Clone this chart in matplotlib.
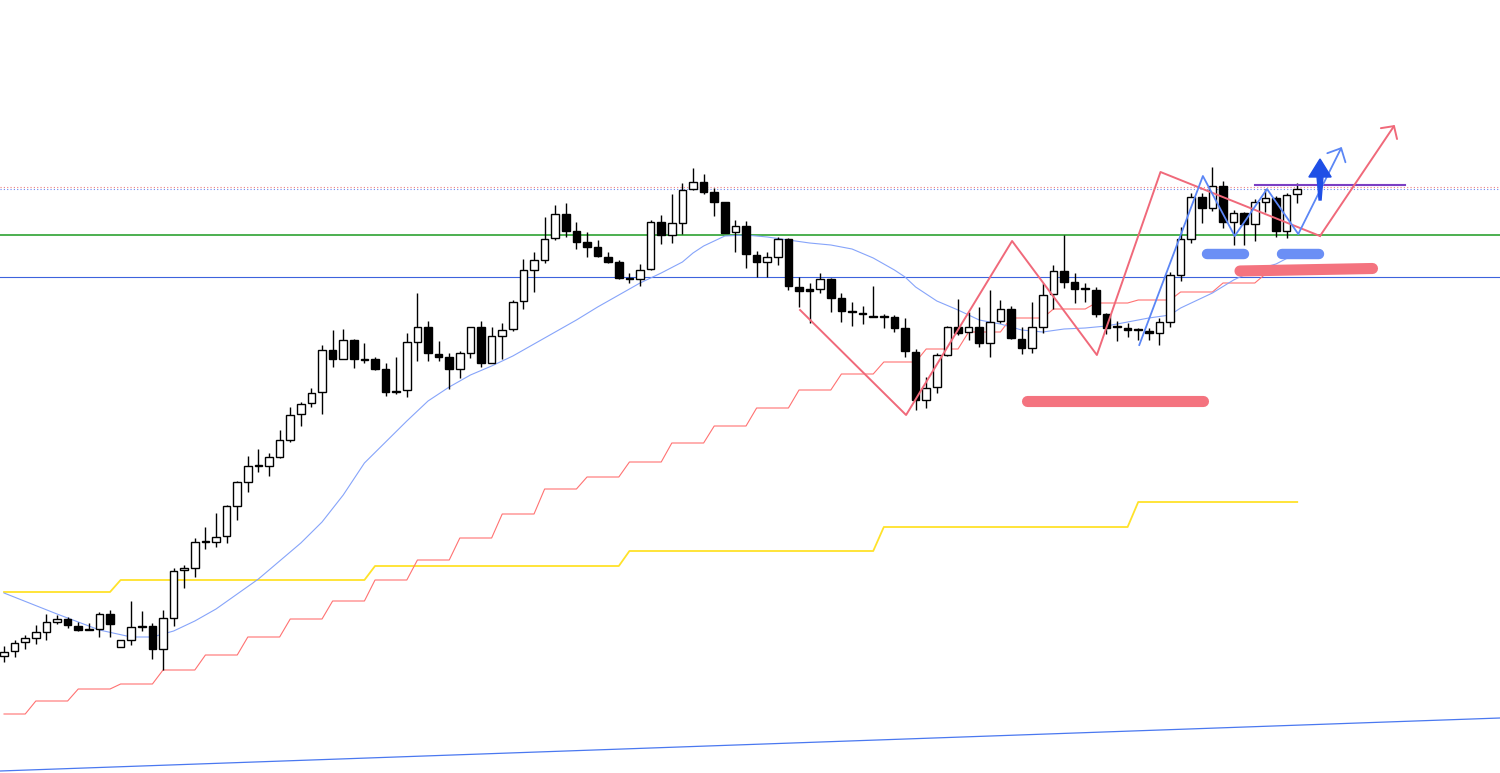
import numpy as np
import matplotlib.pyplot as plt
from matplotlib.patches import Polygon

# candles, one value per bar (price units)
opens = [117, 122, 131, 135, 141, 151, 154, 147, 144, 144, 159, 126, 133, 146, 147, 124, 155, 203, 205, 231,
         231, 237, 267, 291, 307, 307, 316, 333, 359, 370, 381, 423, 414, 433, 414, 414, 404, 381, 383, 431,
         446, 419, 416, 404, 420, 446, 410, 437, 444, 472, 503, 513, 535, 559, 542, 531, 526, 516, 511, 495,
         494, 504, 551, 538, 550, 584, 591, 581, 571, 541, 547, 518, 511, 516, 534, 486, 484, 484, 494, 475,
         462, 460, 457, 457, 456, 445, 421, 373, 386, 418, 446, 441, 446, 430, 452, 464, 434, 425, 446, 479,
         502, 491, 484, 483, 459, 446, 445, 443, 442, 440, 451, 498, 534, 576, 565, 587, 551, 560, 549, 571,
         575, 542, 579]
highs = [127, 133, 138, 148, 159, 158, 156, 151, 150, 161, 163, 133, 172, 162, 150, 163, 205, 208, 235, 246,
         260, 268, 292, 317, 324, 320, 343, 366, 371, 385, 428, 443, 444, 434, 430, 416, 410, 416, 440, 480,
         452, 432, 420, 422, 446, 452, 446, 450, 473, 514, 521, 556, 568, 570, 551, 541, 533, 521, 513, 500,
         509, 553, 558, 579, 590, 605, 599, 585, 571, 553, 552, 522, 521, 536, 535, 496, 490, 500, 495, 480,
         471, 467, 487, 459, 458, 455, 424, 396, 420, 447, 474, 461, 466, 483, 473, 467, 446, 471, 490, 508,
         538, 500, 490, 486, 460, 452, 450, 445, 445, 455, 501, 546, 580, 580, 606, 592, 563, 561, 574, 584,
         577, 580, 590]
lows = [111, 116, 124, 129, 133, 149, 145, 142, 143, 136, 136, 126, 128, 142, 114, 103, 147, 185, 196, 224,
        226, 230, 253, 281, 301, 297, 315, 331, 347, 366, 359, 406, 414, 405, 410, 403, 377, 379, 376, 412,
        412, 412, 384, 395, 415, 406, 410, 414, 442, 464, 481, 510, 533, 536, 524, 516, 516, 510, 494, 490,
        487, 503, 529, 530, 539, 583, 579, 557, 540, 521, 505, 496, 496, 508, 483, 466, 450, 480, 461, 451,
        447, 449, 456, 445, 441, 416, 363, 365, 380, 417, 438, 433, 426, 416, 450, 434, 419, 420, 440, 464,
        485, 470, 471, 456, 439, 432, 436, 433, 433, 428, 446, 492, 530, 550, 562, 545, 528, 528, 532, 561,
        536, 535, 570]
closes = [121, 130, 135, 141, 151, 154, 148, 143, 143, 159, 149, 133, 146, 147, 124, 155, 202, 205, 231, 232,
          236, 267, 291, 307, 308, 316, 333, 358, 369, 380, 423, 414, 433, 414, 413, 404, 381, 382, 431, 446,
          420, 416, 404, 420, 446, 410, 437, 443, 471, 503, 513, 534, 559, 542, 531, 526, 517, 511, 495, 494,
          503, 551, 538, 550, 583, 591, 581, 571, 540, 547, 519, 511, 516, 534, 487, 482, 482, 494, 475, 462,
          461, 459, 456, 456, 445, 422, 373, 385, 418, 446, 440, 446, 430, 451, 464, 435, 425, 446, 478, 502,
          491, 484, 485, 459, 445, 447, 443, 443, 440, 451, 498, 534, 576, 565, 587, 551, 560, 549, 571, 575,
          542, 578, 584]

# moving average (light blue), read at some bars
ma_bar = [0, 5, 9, 12, 14, 16, 18, 20, 22, 24, 26, 28, 30, 32, 34, 36, 38, 40, 42, 44, 46, 48, 50, 52, 54,
          56, 58, 60, 62, 64, 65, 66, 68, 70, 72, 74, 76, 78, 80, 82, 84, 85, 86, 88, 90, 92, 94, 96, 98, 100,
          102, 104, 106, 108, 110, 111, 112, 114, 116, 118, 120, 122]
ma_val = [180, 159, 143, 136, 136, 142, 152, 164, 179, 194, 212, 230, 251, 278, 310, 331, 352, 372, 386, 398,
          407, 417, 429, 441, 453, 466, 478, 490, 500, 511, 520, 527, 537, 538, 536, 533, 530, 528, 524, 515,
          503, 496, 486, 472, 463, 453, 449, 443, 441, 444, 445, 447, 451, 455, 458, 465, 470, 480, 493, 503,
          509, 520]

# higher timeframe step lines: level and how many bars it holds
red_levels = [59, 72, 84, 89, 103, 118, 136, 154, 172, 193, 213, 235, 259, 284, 296, 311, 330, 347, 365, 383,
              399, 411, 424, 441, 455, 464, 470, 473, 481, 490, 499]
red_counts = [3] + [4] * 30
yellow_levels = [181, 193, 207, 222, 246, 271]
yellow_counts = [11, 24, 24, 24, 24, 16]

# horizontal levels
green_level = 538
blue_level = 496
dotted_red = 585.7
dotted_blue = 583.7
purple_level = 588.5
purple_from, purple_to = 118.0, 132.2

# long trend line (two anchors)
trend_x = [-0.38, 141.13]
trend_y = [2, 55]

# drawn swings
red_zz_x = [75.1, 85.1, 95.1, 103.1, 109.1, 124.15, 131.2]
red_zz_y = [463, 358, 532, 418, 601, 537, 648]
blue_zz_x = [107.1, 113.1, 116.1, 119.15, 122.1, 126.2]
blue_zz_y = [428, 597, 537, 584, 539, 626]

# marker strokes: (x0, x1, y0, y1)
red_marks = [(96.5, 113.1, 372.5, 372.5), (116.6, 129.1, 502, 504.5)]
blue_marks = [(113.5, 117.0, 519.5, 519.5), (120.6, 124.1, 519.5, 519.5)]

# up arrow (x, y)
arrow_x = [124.15, 123.1, 123.87, 124.06, 124.25, 124.43, 125.2]
arrow_y = [614, 596, 596, 573, 573, 596, 596]


def draw_candles(ax):
    x = np.arange(len(opens))
    o = np.array(opens, dtype=float)
    c = np.array(closes, dtype=float)
    up = c > o
    bottom = np.minimum(o, c)
    height = np.maximum(np.abs(c - o), 1.0)
    ax.vlines(x, lows, highs, color='black', lw=1.0, zorder=3)
    ax.bar(x, height, bottom=bottom, width=0.72,
           color=np.where(up, 'white', 'black'), edgecolor='black', lw=1.0, zorder=4)


def main():
    fig = plt.figure(figsize=(15, 7.73), dpi=100)
    ax = fig.add_axes([0, 0, 1, 1])
    ax.set_xlim(-0.38, 141.13)
    ax.set_ylim(0, 773)
    ax.axis('off')

    n = len(opens)
    x = np.arange(n)

    # horizontal lines
    ax.axhline(green_level, color='#4caf50', lw=1.4, zorder=1)
    ax.axhline(blue_level, color='#3d63dd', lw=0.8, zorder=1)
    ax.axhline(dotted_red, color='#f08080', lw=0.8, ls=(0, (1, 2)), zorder=1)
    ax.axhline(dotted_blue, color='#6a86ee', lw=0.8, ls=(0, (1, 2)), zorder=1)
    ax.plot(trend_x, trend_y, color='#4a78f0', lw=0.9, zorder=1)

    # indicator lines
    ax.plot(x, np.repeat(yellow_levels, yellow_counts), color='#ffe22a', lw=1.3, zorder=2)
    ax.plot(x, np.repeat(red_levels, red_counts), color='#ff7272', lw=0.8, zorder=2)
    ax.plot(ma_bar, ma_val, color='#86a4fa', lw=0.8, zorder=2)

    draw_candles(ax)

    ax.plot([purple_from, purple_to], [purple_level, purple_level], color='#7b3fc4', lw=1.5, zorder=5)

    # zigzags with open arrow heads
    ax.plot(red_zz_x[:-1], red_zz_y[:-1], color='#f0697a', lw=1.4, zorder=6)
    ax.annotate('', xy=(red_zz_x[-1], red_zz_y[-1]), xytext=(red_zz_x[-2], red_zz_y[-2]),
                arrowprops=dict(arrowstyle='->,head_length=0.65,head_width=0.7', color='#f0697a',
                                lw=1.4, shrinkA=0, shrinkB=0), zorder=6)
    ax.plot(blue_zz_x[:-1], blue_zz_y[:-1], color='#5b86f5', lw=1.3, zorder=6)
    ax.annotate('', xy=(blue_zz_x[-1], blue_zz_y[-1]), xytext=(blue_zz_x[-2], blue_zz_y[-2]),
                arrowprops=dict(arrowstyle='->,head_length=0.77,head_width=0.73', color='#5b86f5',
                                lw=1.3, shrinkA=0, shrinkB=0), zorder=6)

    # highlighter strokes
    for x0, x1, y0, y1 in red_marks:
        ax.plot([x0, x1], [y0, y1], color='#f4737f', lw=8, solid_capstyle='round', zorder=7)
    for x0, x1, y0, y1 in blue_marks:
        ax.plot([x0, x1], [y0, y1], color='#6b8ff5', lw=7.5, solid_capstyle='round', zorder=7)

    ax.add_patch(Polygon(list(zip(arrow_x, arrow_y)), closed=True, color='#1f4fe6', zorder=8))

    fig.savefig('out.png', dpi=100)


main()
